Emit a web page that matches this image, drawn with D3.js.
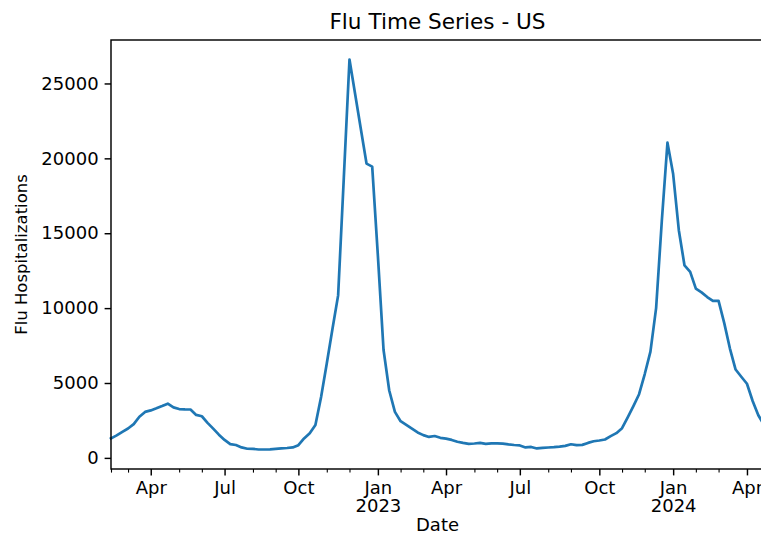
<!DOCTYPE html>
<html>
<head>
<meta charset="utf-8">
<script src="https://cdn.jsdelivr.net/npm/d3@7"></script>
<style>
  html, body { margin: 0; padding: 0; background: #fff; }
  svg { display: block; }
  text { font-family: "DejaVu Sans", sans-serif; fill: #000; }
</style>
</head>
<body>
<svg id="chart" width="761" height="536"></svg>
<script>
// ---- data (weekly, weeks ending Saturday) ----
const startWeek = "2022-02-12";
const hospitalizations = [
  1300, 1500, 1740, 1960, 2250, 2750, 3070, 3170, 3310, 3460,
  3620, 3370, 3260, 3235, 3230, 2870, 2780, 2340, 1950, 1550,
  1200, 920, 860, 700, 610, 600, 560, 560, 570, 600,
  630, 660, 700, 850, 1300, 1650, 2200, 4070, 6300, 8600,
  10850, 18700, 26600, 24280, 21960, 19650, 19450, 13500, 7200, 4500,
  3070, 2450, 2200, 1950, 1700, 1520, 1400, 1460, 1340, 1290,
  1200, 1080, 1000, 935, 960, 1000, 940, 975, 970, 955,
  900, 860, 830, 700, 730, 630, 670, 695, 715, 750,
  800, 910, 850, 870, 1000, 1110, 1160, 1230, 1450, 1650,
  1980, 2700, 3460, 4250, 5600, 7100, 10000, 15800, 21050, 18950,
  15200, 12850, 12420, 11300, 11050, 10740, 10480, 10480, 9000, 7300,
  5900, 5420, 4950, 3800, 2850, 2200
];
const yTickValues = [0, 5000, 10000, 15000, 20000, 25000];
const majorMonths = [0, 3, 6, 9];          // Jan, Apr, Jul, Oct
const monthNames = ["Jan","Feb","Mar","Apr","May","Jun","Jul","Aug","Sep","Oct","Nov","Dec"];
const titleText = "Flu Time Series - US";
const xLabelText = "Date";
const yLabelText = "Flu Hospitalizations";

// ---- build series ----
const start = d3.utcParse("%Y-%m-%d")(startWeek);
const series = hospitalizations.map((v, i) => ({ date: d3.utcDay.offset(start, 7 * i), value: v }));

// ---- layout ----
const svg = d3.select("#chart");
const L = 111, R = 764, T = 40, B = 469;

const x = d3.scaleUtc()
  .domain(d3.extent(series, d => d.date))
  .range([L, R]);

const [vmin, vmax] = d3.extent(series, d => d.value);
const pad = (vmax - vmin) * 0.05;
const y = d3.scaleLinear()
  .domain([vmin - pad, vmax + pad])
  .range([B, T]);

// tick dates: first week of each month (pandas style)
const monthFirst = series.filter((d, i) =>
  i > 0 && d.date.getUTCMonth() !== series[i - 1].date.getUTCMonth()).map(d => d.date);
const majorTicks = monthFirst.filter(d => majorMonths.includes(d.getUTCMonth()));
const minorTicks = [series[0].date].concat(monthFirst.filter(d => !majorMonths.includes(d.getUTCMonth())));

// minor x ticks
const gMinor = svg.append("g")
  .attr("transform", `translate(0,${B})`)
  .call(d3.axisBottom(x).tickValues(minorTicks).tickSize(3.6).tickFormat(""));
gMinor.select(".domain").remove();
gMinor.selectAll("line").attr("stroke", "#000").attr("stroke-width", 1.1);

// major x ticks
const gX = svg.append("g")
  .attr("transform", `translate(0,${B})`)
  .call(d3.axisBottom(x).tickValues(majorTicks).tickSize(6.4).tickPadding(6).tickFormat(""));
gX.select(".domain").remove();
gX.selectAll("line").attr("stroke", "#000").attr("stroke-width", 1.45);
gX.selectAll(".tick text").each(function(d) {
  const t = d3.select(this)
    .attr("font-size", 18)
    .attr("font-family", "DejaVu Sans")
    .attr("fill", "#000");
  t.append("tspan").attr("x", 0).text(monthNames[d.getUTCMonth()]);
  if (d.getUTCMonth() === 0) {
    t.append("tspan").attr("x", 0).attr("dy", "1.0em").text(d.getUTCFullYear());
  }
});

// y axis
const gY = svg.append("g")
  .attr("transform", `translate(${L},0)`)
  .call(d3.axisLeft(y).tickValues(yTickValues).tickSize(6.4).tickPadding(6).tickFormat(d3.format("d")));
gY.select(".domain").remove();
gY.selectAll("line").attr("stroke", "#000").attr("stroke-width", 1.45);
gY.selectAll("text").attr("font-size", 18).attr("font-family", "DejaVu Sans").attr("fill", "#000");

// line
const line = d3.line().x(d => x(d.date)).y(d => y(d.value));
svg.append("path")
  .datum(series)
  .attr("fill", "none")
  .attr("stroke", "#1f77b4")
  .attr("stroke-width", 2.7)
  .attr("stroke-linejoin", "round")
  .attr("stroke-linecap", "square")
  .attr("d", line);

// spines
svg.append("rect")
  .attr("x", L).attr("y", T)
  .attr("width", R - L).attr("height", B - T)
  .attr("fill", "none")
  .attr("stroke", "#000")
  .attr("stroke-width", 1.45);

// title and labels
svg.append("text")
  .attr("x", (L + R) / 2).attr("y", 29)
  .attr("text-anchor", "middle")
  .attr("font-size", 21.6)
  .text(titleText);

svg.append("text")
  .attr("x", (L + R) / 2).attr("y", 531)
  .attr("text-anchor", "middle")
  .attr("font-size", 18)
  .text(xLabelText);

svg.append("text")
  .attr("transform", `translate(26.5,${(T + B) / 2}) rotate(-90)`)
  .attr("text-anchor", "middle")
  .attr("font-size", 16.5)
  .text(yLabelText);
</script>
</body>
</html>
